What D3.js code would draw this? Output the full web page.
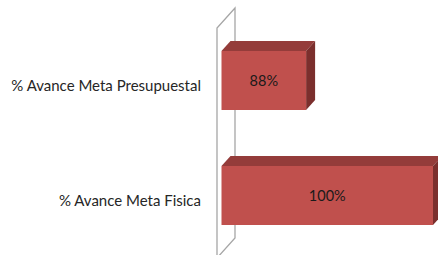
<!DOCTYPE html>
<html>
<head>
<meta charset="utf-8">
<script src="https://cdn.jsdelivr.net/npm/d3@7"></script>
<style>
  html, body { margin: 0; padding: 0; background: #ffffff; }
  svg { display: block; }
</style>
</head>
<body>
<svg id="chart" width="438" height="255"></svg>
<script>
// ---- data ----
const categories = ["% Avance Meta Presupuestal", "% Avance Meta Fisica"];
const values = [88, 100];
const valueLabels = ["88%", "100%"];
const axisDomain = [80, 100];

// ---- layout ----
const W = 438, H = 255;
const svg = d3.select("#chart");

const x = d3.scaleLinear().domain(axisDomain).range([217, 428.5]);
const y = d3.scaleBand().domain(categories).range([28, 258])
  .paddingInner(0.487).paddingOuter(0.2435);

// depth vector (full depth of the 3D box)
const DX = 18, DY = -20;
const d0 = 0.25, d1 = 0.75;  // bar occupies middle of the depth

const wallColor = "#a6a6a6";
const frontColor = "#c0504d";
const topColor = "#943c3a";
const sideColor = "#7b2f2d";

// ---- wall (left side) ----
const x0 = x(axisDomain[0]);
const yTop = y.range()[0], yBot = y.range()[1];
const wallPts = [
  [x0, yBot], [x0, yTop], [x0 + DX, yTop + DY], [x0 + DX, yBot + DY], [x0, yBot]
];
svg.append("path")
  .attr("d", d3.line()(wallPts))
  .attr("fill", "none")
  .attr("stroke", wallColor)
  .attr("stroke-width", 1.3);

// ---- bars ----
const data = categories.map((c, i) => ({ c, v: values[i], label: valueLabels[i] }));

const g = svg.append("g");
data.forEach(d => {
  const fx0 = x0 + DX * d0, fy0 = y(d.c) + DY * d0;
  const fx1 = x(d.v) + DX * d0, fy1 = fy0 + y.bandwidth();
  const bdx = DX * (d1 - d0), bdy = DY * (d1 - d0);
  // top face
  g.append("path")
    .attr("d", d3.line()([[fx0, fy0], [fx0 + bdx, fy0 + bdy], [fx1 + bdx, fy0 + bdy], [fx1, fy0]]) + "Z")
    .attr("fill", topColor);
  // side face
  g.append("path")
    .attr("d", d3.line()([[fx1, fy0], [fx1 + bdx, fy0 + bdy], [fx1 + bdx, fy1 + bdy], [fx1, fy1]]) + "Z")
    .attr("fill", sideColor);
  // front face
  g.append("rect")
    .attr("x", fx0).attr("y", fy0)
    .attr("width", fx1 - fx0).attr("height", fy1 - fy0)
    .attr("fill", frontColor);
  // value label
  g.append("text")
    .attr("x", (fx0 + fx1) / 2)
    .attr("y", (fy0 + fy1) / 2)
    .attr("dy", "0.35em")
    .attr("text-anchor", "middle")
    .attr("font-family", "Lato, 'Open Sans', sans-serif")
    .attr("font-size", 14.5)
    .attr("fill", "#1a1a1a")
    .text(d.label);
});

// ---- category labels ----
svg.append("g").selectAll("text")
  .data(categories)
  .join("text")
  .attr("x", x0 - 16)
  .attr("y", d => y(d) + y.bandwidth() / 2)
  .attr("dy", "0.35em")
  .attr("text-anchor", "end")
  .attr("font-family", "Lato, 'Open Sans', sans-serif")
  .attr("font-size", 15)
  .attr("fill", "#262626")
  .text(d => d);
</script>
</body>
</html>
